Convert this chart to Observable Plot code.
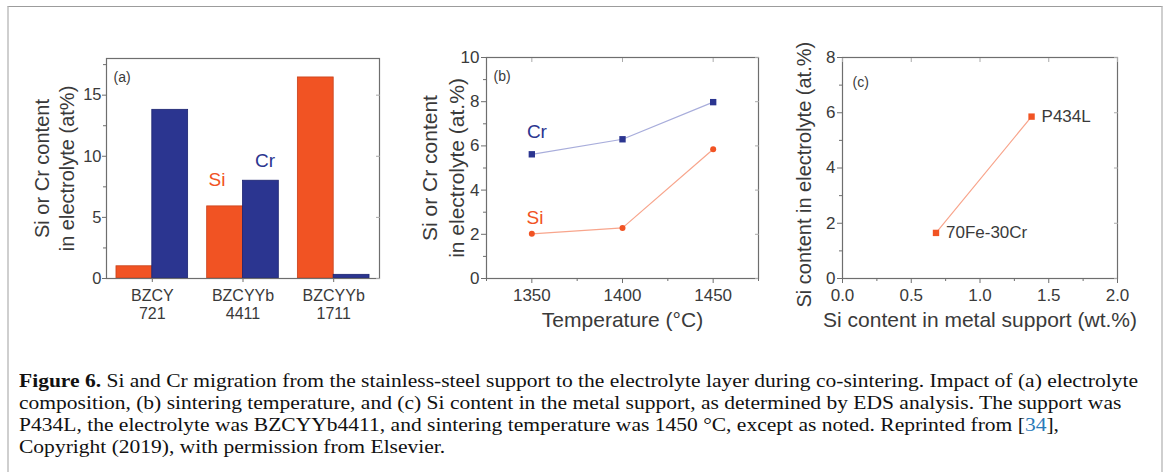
<!DOCTYPE html>
<html><head><meta charset="utf-8">
<script src="https://cdn.jsdelivr.net/npm/d3@7"></script>
<script src="https://cdn.jsdelivr.net/npm/@observablehq/plot@0.6"></script>
<style>
html,body{margin:0;padding:0;background:#fff;}
#fig{position:relative;width:1165px;height:472px;overflow:hidden;background:#fff;font-family:"Liberation Sans",Arial,sans-serif;}
#border{position:absolute;left:7px;top:6px;width:1152px;height:480px;border-top:1px solid #9c9c9c;border-left:2px solid #cfcfcf;border-right:2px solid #cfcfcf;}
.panel{position:absolute;}
#caption{position:absolute;left:19px;top:370px;font-family:"Liberation Serif","Times New Roman",serif;font-size:19.5px;line-height:22px;color:#111;white-space:nowrap;transform-origin:0 0;}
#caption span.l{display:block;width:max-content;}
#caption .ref{color:#2a7ab8;}
</style></head><body>
<div id="fig">
<div id="border"></div>
<div id="pa" class="panel" style="left:20px;top:40px"></div>
<div id="pb" class="panel" style="left:395px;top:40px"></div>
<div id="pc" class="panel" style="left:775px;top:38px"></div>
<div id="caption"><span class="l" id="cap1"><b>Figure 6.</b> Si and Cr migration from the stainless-steel support to the electrolyte layer during co-sintering. Impact of (a) electrolyte</span><span class="l">composition, (b) sintering temperature, and (c) Si content in the metal support, as determined by EDS analysis. The support was</span><span class="l">P434L, the electrolyte was BZCYYb4411, and sintering temperature was 1450 °C, except as noted. Reprinted from [<span class="ref">34</span>],</span><span class="l">Copyright (2019), with permission from Elsevier.</span></div>
</div>
<script>
// ---- data ----
const compositions = ["BZCY\n721", "BZCYYb\n4411", "BZCYYb\n1711"];
const siByComposition = [1.0, 5.9, 16.45];
const crByComposition = [13.8, 8.0, 0.3];

const temperatures = [1350, 1400, 1450];
const siByTemperature = [2.02, 2.29, 5.85];
const crByTemperature = [5.62, 6.3, 7.98];

const supports = ["70Fe-30Cr", "P434L"];
const siInSupport = [0.68, 1.375];
const siInElectrolyte = [1.65, 5.86];

const ticksAy = [0, 5, 10, 15], minorAy = [2.5, 7.5, 12.5, 17.5];
const ticksBx = [1350, 1400, 1450], minorBx = [1325, 1375, 1425, 1475];
const ticksBy = [0, 2, 4, 6, 8, 10], minorBy = [1, 3, 5, 7, 9];
const ticksCx = [0, 0.5, 1, 1.5, 2], minorCx = [0.25, 0.75, 1.25, 1.75];
const ticksCy = [0, 2, 4, 6, 8], minorCy = [1, 3, 5, 7];

// ---- styles ----
const ORANGE = "#f15323", ORANGE_D = "#c8401a", NAVY = "#2b3590", NAVY_D = "#1c2470";
const ORANGE_L = "#f8a58c", NAVY_L = "#a8addb";
const FRAME = "#6e6e6e", TXT = "#3a3a3a";
const FONT = "'Liberation Sans', Arial, sans-serif";
const baseStyle = {fontFamily: FONT, fontSize: "17px", color: TXT, background: "transparent", overflow: "visible"};

function boxAxes(xt, xm, yt, ym, opts = {}) {
  const ySize = opts.ySize ?? 17, yTick = opts.yTick ?? 5, yPad = opts.yPad ?? 2;
  const out = [
    Plot.frame({stroke: FRAME, strokeWidth: 1.2}),
    Plot.axisY({ticks: yt, tickSize: yTick, tickPadding: yPad, fontSize: ySize, label: null, stroke: FRAME}),
    Plot.axisY({ticks: ym, tickSize: 3, tickFormat: () => "", label: null, stroke: FRAME}),
    Plot.axisY({ticks: yt, anchor: "right", tickSize: -4, tickFormat: () => "", label: null, stroke: "#aaa"}),
  ];
  if (xt) {
    out.push(
      Plot.axisX({ticks: xt, tickSize: 5, tickPadding: 5, fontSize: 17, label: null, stroke: FRAME, tickFormat: opts.xFmt}),
      Plot.axisX({ticks: xm, tickSize: 3, tickFormat: () => "", label: null, stroke: FRAME}),
      Plot.axisX({ticks: xt, anchor: "top", tickSize: -4, tickFormat: () => "", label: null, stroke: "#aaa"})
    );
  }
  return out;
}

// ---- panel (a) ----
{
  const W = 370, H = 300, mL = 86, mR = 11, mT = 18, mB = 62;
  const band = d3.scaleBand(compositions, [mL, W - mR]).paddingInner(0.21).paddingOuter(0.11);
  const half = band.bandwidth() / 2;
  const rows = compositions.map((c, i) => ({c, si: siByComposition[i], cr: crByComposition[i]}));
  const chart = Plot.plot({
    width: W, height: H, marginLeft: mL, marginRight: mR, marginTop: mT, marginBottom: mB,
    style: baseStyle,
    x: {type: "band", domain: compositions, paddingInner: 0.21, paddingOuter: 0.11, round: false, axis: null},
    y: {domain: [0, 18], axis: null},
    marks: [
      Plot.barY(rows, {x: "c", y: "si", fill: ORANGE, stroke: ORANGE_D, strokeWidth: 0.8, insetRight: half}),
      Plot.barY(rows, {x: "c", y: "cr", fill: NAVY, stroke: NAVY_D, strokeWidth: 0.8, insetLeft: half}),
      ...boxAxes(null, null, ticksAy, minorAy, {ySize: 16.5, yTick: 4, yPad: 1}),
      Plot.axisX({tickSize: 4, tickPadding: 6, fontSize: 16, lineHeight: 1.12, label: null, stroke: FRAME}),
      Plot.text([{c: compositions[1], v: 8.1}], {x: "c", y: "v", text: () => "Si", dx: -26, fill: ORANGE, fontSize: 19}),
      Plot.text([{c: compositions[1], v: 9.6}], {x: "c", y: "v", text: () => "Cr", dx: 22, fill: NAVY, fontSize: 19}),
      Plot.text(["(a)"], {text: d => d, frameAnchor: "top-left", dx: 7, dy: 14, textAnchor: "start", fontSize: 14, fill: TXT}),
      Plot.text(["Si or Cr content\nin electrolyte (at%)"], {text: d => d, frameAnchor: "left", rotate: -90, dx: -53, lineHeight: 1.26, fontSize: 20, textAnchor: "middle", lineAnchor: "middle", fill: TXT})
    ]
  });
  document.getElementById("pa").appendChild(chart);
}

// ---- panel (b) ----
{
  const W = 375, H = 300, mL = 91, mR = 12, mT = 17, mB = 62;
  const cr = temperatures.map((t, i) => ({t, v: crByTemperature[i]}));
  const si = temperatures.map((t, i) => ({t, v: siByTemperature[i]}));
  const chart = Plot.plot({
    width: W, height: H, marginLeft: mL, marginRight: mR, marginTop: mT, marginBottom: mB,
    style: baseStyle,
    x: {domain: [1325, 1475], axis: null},
    y: {domain: [0, 10], axis: null},
    marks: [
      Plot.line(cr, {x: "t", y: "v", stroke: NAVY_L, strokeWidth: 1.2}),
      Plot.line(si, {x: "t", y: "v", stroke: ORANGE_L, strokeWidth: 1.2}),
      Plot.dot(cr, {x: "t", y: "v", symbol: "square", r: 3.6, fill: NAVY}),
      Plot.dot(si, {x: "t", y: "v", symbol: "circle", r: 3, fill: ORANGE}),
      ...boxAxes(ticksBx, minorBx, ticksBy, minorBy, {xFmt: d3.format("d")}),
      Plot.text([{t: 1352.8, v: 6.65}], {x: "t", y: "v", text: () => "Cr", fill: NAVY, fontSize: 19}),
      Plot.text([{t: 1351.7, v: 2.76}], {x: "t", y: "v", text: () => "Si", fill: ORANGE, fontSize: 19}),
      Plot.text(["(b)"], {text: d => d, frameAnchor: "top-left", dx: 7, dy: 14, textAnchor: "start", fontSize: 14, fill: TXT}),
      Plot.text(["Si or Cr content\nin electrolyte (at.%)"], {text: d => d, frameAnchor: "left", rotate: -90, dx: -45, lineHeight: 1.32, fontSize: 21, textAnchor: "middle", lineAnchor: "middle", fill: TXT}),
      Plot.text(["Temperature (°C)"], {text: d => d, frameAnchor: "bottom", dy: 48, fontSize: 21, fill: TXT})
    ]
  });
  document.getElementById("pb").appendChild(chart);
}

// ---- panel (c) ----
{
  const W = 380, H = 302, mL = 67, mR = 38, mT = 19, mB = 62;
  const pts = supports.map((s, i) => ({s, x: siInSupport[i], y: siInElectrolyte[i]}));
  const chart = Plot.plot({
    width: W, height: H, marginLeft: mL, marginRight: mR, marginTop: mT, marginBottom: mB,
    style: baseStyle,
    x: {domain: [0, 2], axis: null},
    y: {domain: [0, 8], axis: null},
    marks: [
      Plot.line(pts, {x: "x", y: "y", stroke: ORANGE_L, strokeWidth: 1.2}),
      Plot.dot(pts, {x: "x", y: "y", symbol: "square", r: 3.6, fill: ORANGE}),
      Plot.text(pts, {x: "x", y: "y", text: "s", dx: 10, textAnchor: "start", fontSize: 17, fill: TXT}),
      ...boxAxes(ticksCx, minorCx, ticksCy, minorCy, {xFmt: d3.format(".1f")}),
      Plot.text(["(c)"], {text: d => d, frameAnchor: "top-left", dx: 10, dy: 20, textAnchor: "start", fontSize: 14, fill: TXT}),
      Plot.text(["Si content in electrolyte (at.%)"], {text: d => d, frameAnchor: "bottom-left", rotate: -90, dx: -32, dy: 29, fontSize: 20, textAnchor: "start", fill: TXT}),
      Plot.text(["Si content in metal support (wt.%)"], {text: d => d, frameAnchor: "bottom", dy: 48, fontSize: 21, fill: TXT})
    ]
  });
  document.getElementById("pc").appendChild(chart);
}

// ---- caption width fit ----
{
  const cap = document.getElementById("caption");
  const w = document.getElementById("cap1").getBoundingClientRect().width;
  cap.style.transform = `scaleX(${1119 / w})`;
}
</script>
</body></html>
